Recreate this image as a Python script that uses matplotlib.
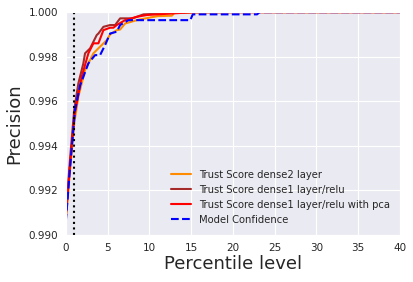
import matplotlib
matplotlib.use('Agg')
import matplotlib.pyplot as plt
import seaborn as sns

sns.set_style('darkgrid')

# percentile level -> precision
x_dense2 = [0, 0.5, 1.0, 1.5, 1.9, 2.3, 2.7, 3.3, 4.1, 4.9, 5.3, 6.1, 6.5, 7.1, 8.5, 10.1, 11.0, 12.7, 13.0, 20, 40]
y_dense2 = [0.9907, 0.9929, 0.9950, 0.9962, 0.9968, 0.9974, 0.9977, 0.99815, 0.99845, 0.99874, 0.99900,
            0.99919, 0.99922, 0.99949, 0.99964, 0.99976, 0.99982, 0.99984, 0.99997, 1.0, 1.0]

x_relu = [0, 0.5, 1.0, 1.5, 2.1, 2.3, 2.9, 3.7, 3.9, 4.5, 5.3, 5.9, 6.5, 8.0, 9.3, 15, 40]
y_relu = [0.9909, 0.9934, 0.9956, 0.9968, 0.9977, 0.99815, 0.99837, 0.99897, 0.99904, 0.99934, 0.99942,
          0.99942, 0.99972, 0.99972, 0.99990, 1.0, 1.0]

x_pca = [0, 0.5, 1.0, 1.9, 2.7, 3.3, 3.9, 4.5, 5.3, 5.7, 6.1, 7.1, 8.5, 9.7, 12.7, 15.5, 40]
y_pca = [0.9908, 0.9931, 0.9953, 0.9971, 0.99815, 0.99860, 0.99860, 0.99919, 0.99930, 0.99930, 0.99942,
         0.99964, 0.99979, 0.99987, 0.99994, 1.0, 1.0]

x_conf = [0, 0.5, 1.1, 1.7, 2.3, 2.7, 3.5, 4.1, 4.7, 5.3, 6.1, 6.5, 7.5, 14.9, 15.2, 22.9, 23.2, 40]
y_conf = [0.9906, 0.9930, 0.9956, 0.9967, 0.9973, 0.9977, 0.99807, 0.99807, 0.99852, 0.99904, 0.99912,
          0.99942, 0.99964, 0.99964, 0.9999, 0.9999, 1.0, 1.0]

cutoff = 1.0

fig = plt.figure(figsize=(4.14, 2.82), dpi=100)
ax = fig.add_axes([0.159, 0.167, 0.807, 0.79])

ax.plot(x_dense2, y_dense2, color='darkorange', lw=1.5, label='Trust Score dense2 layer')
ax.plot(x_relu, y_relu, color='#a52a2a', lw=1.5, label='Trust Score dense1 layer/relu')
ax.plot(x_pca, y_pca, color='red', lw=1.5, label='Trust Score dense1 layer/relu with pca')
ax.plot(x_conf, y_conf, color='blue', lw=1.5, ls='--', label='Model Confidence')
ax.axvline(cutoff, color='black', ls=':', lw=1.5)

ax.set_xlim(0, 40)
ax.set_ylim(0.990, 1.000)
ax.set_yticks([0.990, 0.992, 0.994, 0.996, 0.998, 1.000])
ax.set_yticklabels(['0.990', '0.992', '0.994', '0.996', '0.998', '1.000'])
ax.tick_params(labelsize=7.5, pad=2)
ax.set_xlabel('Percentile level', fontsize=13, labelpad=2)
ax.set_ylabel('Precision', fontsize=13, labelpad=4)
ax.legend(loc='lower right', fontsize=7.2, frameon=False, borderaxespad=0.6)

fig.savefig('out.png', dpi=100)
